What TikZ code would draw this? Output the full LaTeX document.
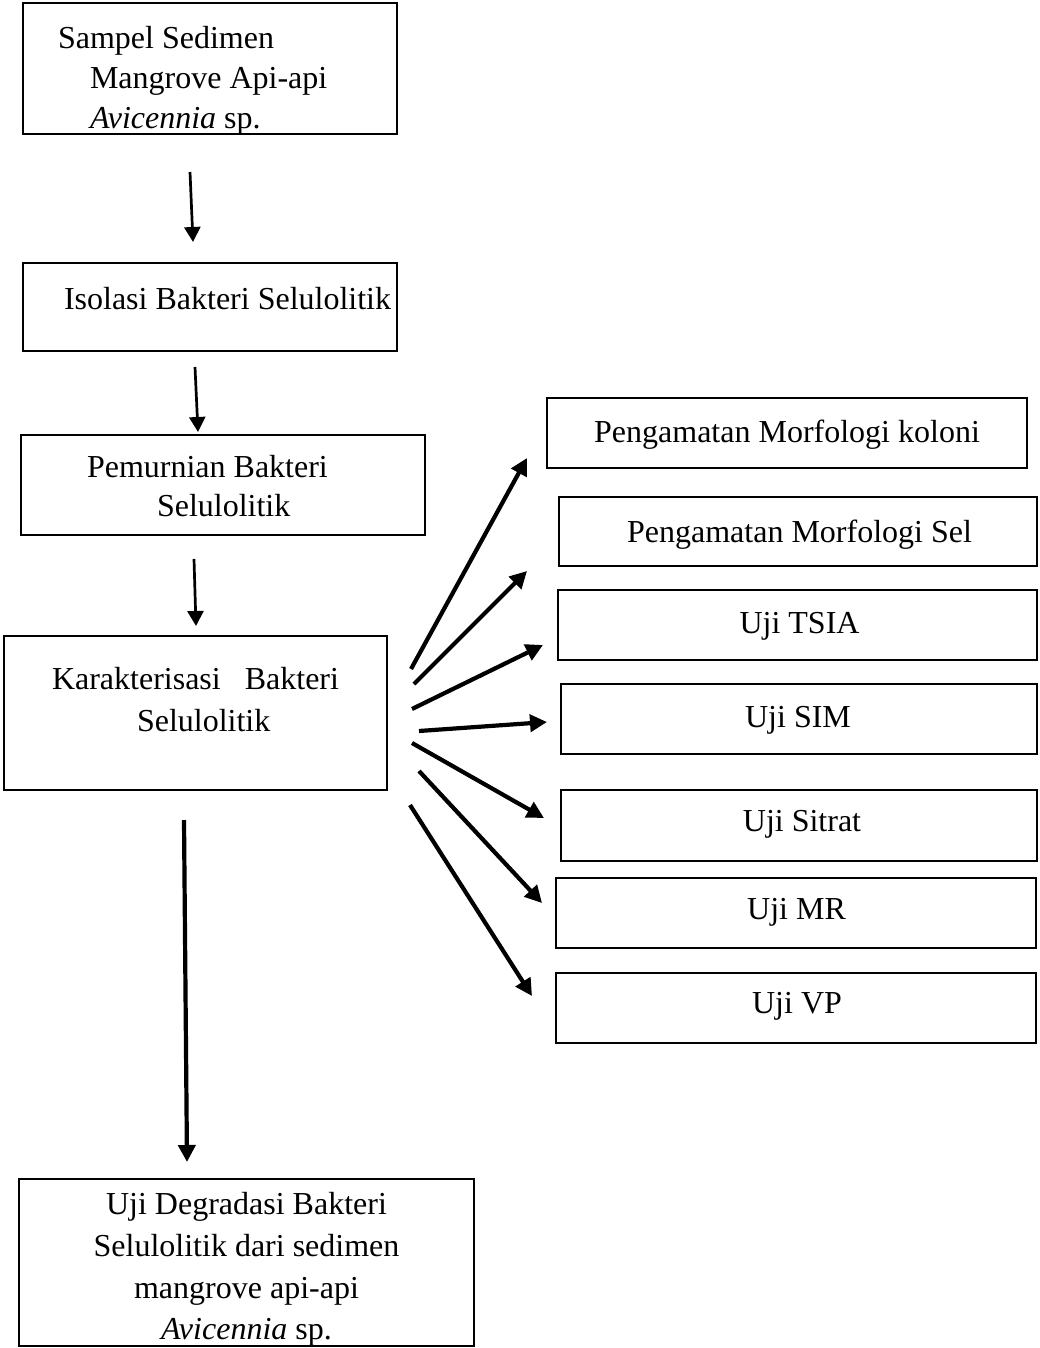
\documentclass[tikz,border=0pt]{standalone}
\usepackage{fontspec}
\setmainfont{Liberation Serif}
\usetikzlibrary{arrows.meta}
\begin{document}
\begin{tikzpicture}[x=1pt,y=-1pt,
  box/.style={draw, line width=2.7pt, inner sep=0pt, outer sep=0pt},
  txt/.style={inner sep=0pt, outer sep=0pt, font=\fontsize{32}{40}\selectfont},
  lt/.style={txt, anchor=base west},
  ct/.style={txt, anchor=base},
  flow/.style={line width=2.7pt, -{Triangle[length=15pt,width=16pt]}},
  fan/.style={line width=4.2pt, -{Triangle[length=17pt,width=17pt]}},
]
\useasboundingbox (0,0) rectangle (1039,1348);

% main column boxes
\node[box, minimum width=374pt, minimum height=131pt] (sampel) at (210,68.5) {};
\node[box, minimum width=374pt, minimum height=88pt]  (isolasi) at (210,307) {};
\node[box, minimum width=404pt, minimum height=100pt] (murni) at (223,485) {};
\node[box, minimum width=383pt, minimum height=154pt] (karak) at (195.5,713) {};
\node[box, minimum width=455pt, minimum height=167pt] (degra) at (246.5,1262.5) {};

% characterisation boxes
\node[box, minimum width=480pt, minimum height=70pt] (kol) at (787,433) {};
\node[box, minimum width=478pt, minimum height=69pt] (sel) at (798,531.5) {};
\node[box, minimum width=479pt, minimum height=70pt] (tsia) at (797.5,625) {};
\node[box, minimum width=476pt, minimum height=70pt] (sim) at (799,719) {};
\node[box, minimum width=476pt, minimum height=71pt] (sitrat) at (799,825.5) {};
\node[box, minimum width=480pt, minimum height=70pt] (mr) at (796,913) {};
\node[box, minimum width=480pt, minimum height=70pt] (vp) at (796,1008) {};

% texts of the main column
\node[lt] (t1a) at (58,49)  {Sampel Sedimen};
\node[lt] (t1b) at (90,89)  {Mangrove Api-api};
\node[lt] (t1c) at (90,129) {\textit{Avicennia} sp.};
\node[lt] (t2)  at (64,309) {Isolasi Bakteri Selulolitik};
\node[lt] (t3a) at (87,477) {Pemurnian Bakteri};
\node[lt] (t3b) at (157,516) {Selulolitik};
\node[lt] (t4a) at (52,689) {Karakterisasi~~~Bakteri};
\node[lt] (t4b) at (137,731) {Selulolitik};
\node[ct] (t5a) at (246.5,1214) {Uji Degradasi Bakteri};
\node[ct] (t5b) at (246.5,1256) {Selulolitik dari sedimen};
\node[ct] (t5c) at (246.5,1298) {mangrove api-api};
\node[ct] (t5d) at (246.5,1339) {\textit{Avicennia} sp.};

% texts of the characterisation boxes
\node[ct] (tk) at (787,442)   {Pengamatan Morfologi koloni};
\node[ct] (ts) at (799.5,542) {Pengamatan Morfologi Sel};
\node[ct] (tt) at (799.5,633) {Uji TSIA};
\node[ct] (tm) at (798,727)   {Uji SIM};
\node[ct] (tc) at (802,831)   {Uji Sitrat};
\node[ct] (tr) at (796.5,919) {Uji MR};
\node[ct] (tv) at (797,1013)  {Uji VP};

% arrow end points
\coordinate (v1s) at (190,172);  \coordinate (v1e) at (193,242);
\coordinate (v2s) at (195,367);  \coordinate (v2e) at (198,432);
\coordinate (v3s) at (194,559);  \coordinate (v3e) at (196,626);
\coordinate (v4s) at (184,820);  \coordinate (v4e) at (187,1162);

\coordinate (a1s) at (411,669); \coordinate (a1e) at (527,458);
\coordinate (a2s) at (414,684); \coordinate (a2e) at (527,571);
\coordinate (a3s) at (412,709); \coordinate (a3e) at (543,645);
\coordinate (a4s) at (419,731); \coordinate (a4e) at (547,722);
\coordinate (a5s) at (412,743); \coordinate (a5e) at (544,818);
\coordinate (a6s) at (419,771); \coordinate (a6e) at (542,903);
\coordinate (a7s) at (410,805); \coordinate (a7e) at (532,996);

% main flow
\draw[flow] (v1s) -- (v1e);
\draw[flow] (v2s) -- (v2e);
\draw[flow] (v3s) -- (v3e);
\draw[fan]  (v4s) -- (v4e);

% fan of characterisation tests
\draw[fan] (a1s) -- (a1e);
\draw[fan] (a2s) -- (a2e);
\draw[fan] (a3s) -- (a3e);
\draw[fan] (a4s) -- (a4e);
\draw[fan] (a5s) -- (a5e);
\draw[fan] (a6s) -- (a6e);
\draw[fan] (a7s) -- (a7e);
\end{tikzpicture}
\end{document}
